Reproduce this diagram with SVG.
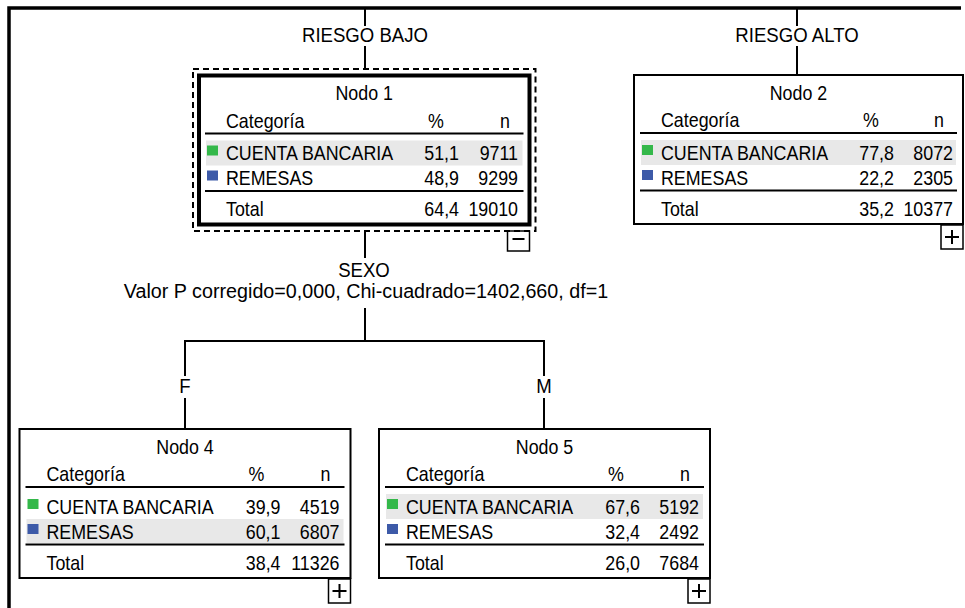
<svg xmlns="http://www.w3.org/2000/svg" width="965" height="608" viewBox="0 0 965 608">
  <style>
    .tx { font-family: "Liberation Sans", Arial, sans-serif; font-size: 21px; fill: #000; transform-box: fill-box; }
    .st { transform-origin: 0% 50%; transform: scaleX(.85); }
    .en { text-anchor: end; transform-origin: 100% 50%; transform: scaleX(.85); }
    .mi { text-anchor: middle; transform-origin: 50% 50%; transform: scaleX(.85); }
    .lb { text-anchor: middle; transform-origin: 50% 50%; transform: scaleX(.886); }
    .lw { text-anchor: middle; transform-origin: 50% 50%; transform: scaleX(.94); }
    .box { fill: #fff; stroke: #000; stroke-width: 2; }
    .rule { stroke: #000; stroke-width: 2; fill: none; }
    .band { fill: #e8e8e8; }
    .sw-a { fill: #34b84a; }
    .sw-b { fill: #3d5aa8; }
    .tog { fill: #fff; stroke: #000; stroke-width: 1.5; }
    .sign { stroke: #000; stroke-width: 2; fill: none; }
    .wire { stroke: #000; stroke-width: 2; fill: none; }
  </style>

  <!-- outer frame -->
  <path d="M9 608 V8 H961" fill="none" stroke="#000" stroke-width="3.5"/>

  <!-- connectors and split labels -->
  <g id="connectors">
    <path class="wire" d="M365 8 V26 M365 46 V70"/>
    <path class="wire" d="M797 8 V26 M797 46 V75"/>
    <path class="wire" d="M365 231 V258 M365 308 V341"/>
    <path class="wire" d="M185 429 V398 M185 376 V341 H544 V376 M544 398 V429"/>
    <text class="tx lb" x="365" y="42">RIESGO BAJO</text>
    <text class="tx lb" x="797" y="42">RIESGO ALTO</text>
    <text class="tx lb" x="364" y="277">SEXO</text>
    <text class="tx lw" x="366" y="298">Valor P corregido=0,000, Chi-cuadrado=1402,660, df=1</text>
    <text class="tx lb" x="185" y="393">F</text>
    <text class="tx lb" x="544" y="393">M</text>
  </g>

  <!-- Nodo 1 (selected) -->
  <g id="node1" transform="translate(199,75.5)">
    <rect class="tog" x="308.5" y="155.5" width="22" height="20"/>
    <path class="sign" d="M313.5 163.5 H325.5"/>
    <rect x="-6" y="-6.5" width="342.5" height="162" fill="none" stroke="#000" stroke-width="2" stroke-dasharray="6 4"/>
    <rect x="0" y="0" width="330.5" height="149" fill="#fff" stroke="#000" stroke-width="4"/>
    <text class="tx mi" x="165.25" y="25">Nodo 1</text>
    <text class="tx st" x="27" y="52.5">Categoría</text>
    <text class="tx mi" x="237" y="52.5">%</text>
    <text class="tx mi" x="306" y="52.5">n</text>
    <path class="rule" d="M6 58 H324.5"/>
    <rect class="band" x="7" y="65" width="316.5" height="25"/>
    <rect class="sw-a" x="8" y="70" width="11" height="10"/>
    <rect class="sw-b" x="8" y="95" width="11" height="10"/>
    <text class="tx st" x="27" y="85">CUENTA BANCARIA</text>
    <text class="tx en" x="260" y="85">51,1</text>
    <text class="tx en" x="319" y="85">9711</text>
    <text class="tx st" x="27" y="110">REMESAS</text>
    <text class="tx en" x="260" y="110">48,9</text>
    <text class="tx en" x="319" y="110">9299</text>
    <path class="rule" d="M6 115.5 H324.5"/>
    <text class="tx st" x="27" y="141">Total</text>
    <text class="tx en" x="260" y="141">64,4</text>
    <text class="tx en" x="319" y="141">19010</text>
  </g>

  <!-- Nodo 2 -->
  <g id="node2" transform="translate(634,75)">
    <rect class="box" x="0" y="0" width="329" height="149"/>
    <text class="tx mi" x="164.5" y="25">Nodo 2</text>
    <text class="tx st" x="27" y="52.5">Categoría</text>
    <text class="tx mi" x="237" y="52.5">%</text>
    <text class="tx mi" x="305" y="52.5">n</text>
    <path class="rule" d="M6 58 H323"/>
    <rect class="band" x="7" y="65" width="315" height="25"/>
    <rect class="sw-a" x="8" y="70" width="11" height="10"/>
    <rect class="sw-b" x="8" y="95" width="11" height="10"/>
    <text class="tx st" x="27" y="85">CUENTA BANCARIA</text>
    <text class="tx en" x="260" y="85">77,8</text>
    <text class="tx en" x="319" y="85">8072</text>
    <text class="tx st" x="27" y="110">REMESAS</text>
    <text class="tx en" x="260" y="110">22,2</text>
    <text class="tx en" x="319" y="110">2305</text>
    <path class="rule" d="M6 115.5 H323"/>
    <text class="tx st" x="27" y="141">Total</text>
    <text class="tx en" x="260" y="141">35,2</text>
    <text class="tx en" x="319" y="141">10377</text>
    <rect class="tog" x="307" y="150" width="22" height="24"/>
    <path class="sign" d="M311 162 H325 M318 155 V169"/>
  </g>

  <!-- Nodo 4 -->
  <g id="node4" transform="translate(19.5,429)">
    <rect class="box" x="0" y="0" width="331" height="149"/>
    <text class="tx mi" x="165.5" y="25">Nodo 4</text>
    <text class="tx st" x="27" y="52.5">Categoría</text>
    <text class="tx mi" x="237" y="52.5">%</text>
    <text class="tx mi" x="306" y="52.5">n</text>
    <path class="rule" d="M6 58 H325"/>
    <rect class="band" x="7" y="90" width="317" height="24"/>
    <rect class="sw-a" x="8" y="70" width="11" height="10"/>
    <rect class="sw-b" x="8" y="95" width="11" height="10"/>
    <text class="tx st" x="27" y="85">CUENTA BANCARIA</text>
    <text class="tx en" x="261" y="85">39,9</text>
    <text class="tx en" x="320" y="85">4519</text>
    <text class="tx st" x="27" y="110">REMESAS</text>
    <text class="tx en" x="261" y="110">60,1</text>
    <text class="tx en" x="320" y="110">6807</text>
    <path class="rule" d="M6 115.5 H325"/>
    <text class="tx st" x="27" y="141">Total</text>
    <text class="tx en" x="261" y="141">38,4</text>
    <text class="tx en" x="320" y="141">11326</text>
    <rect class="tog" x="309" y="150" width="22" height="24"/>
    <path class="sign" d="M313 162 H327 M320 155 V169"/>
  </g>

  <!-- Nodo 5 -->
  <g id="node5" transform="translate(379,429)">
    <rect class="box" x="0" y="0" width="331" height="149"/>
    <text class="tx mi" x="165.5" y="25">Nodo 5</text>
    <text class="tx st" x="27" y="52.5">Categoría</text>
    <text class="tx mi" x="237" y="52.5">%</text>
    <text class="tx mi" x="306" y="52.5">n</text>
    <path class="rule" d="M6 58 H325"/>
    <rect class="band" x="7" y="65" width="317" height="25"/>
    <rect class="sw-a" x="8" y="70" width="11" height="10"/>
    <rect class="sw-b" x="8" y="95" width="11" height="10"/>
    <text class="tx st" x="27" y="85">CUENTA BANCARIA</text>
    <text class="tx en" x="261" y="85">67,6</text>
    <text class="tx en" x="320" y="85">5192</text>
    <text class="tx st" x="27" y="110">REMESAS</text>
    <text class="tx en" x="261" y="110">32,4</text>
    <text class="tx en" x="320" y="110">2492</text>
    <path class="rule" d="M6 115.5 H325"/>
    <text class="tx st" x="27" y="141">Total</text>
    <text class="tx en" x="261" y="141">26,0</text>
    <text class="tx en" x="320" y="141">7684</text>
    <rect class="tog" x="309" y="150" width="22" height="24"/>
    <path class="sign" d="M313 162 H327 M320 155 V169"/>
  </g>
</svg>
